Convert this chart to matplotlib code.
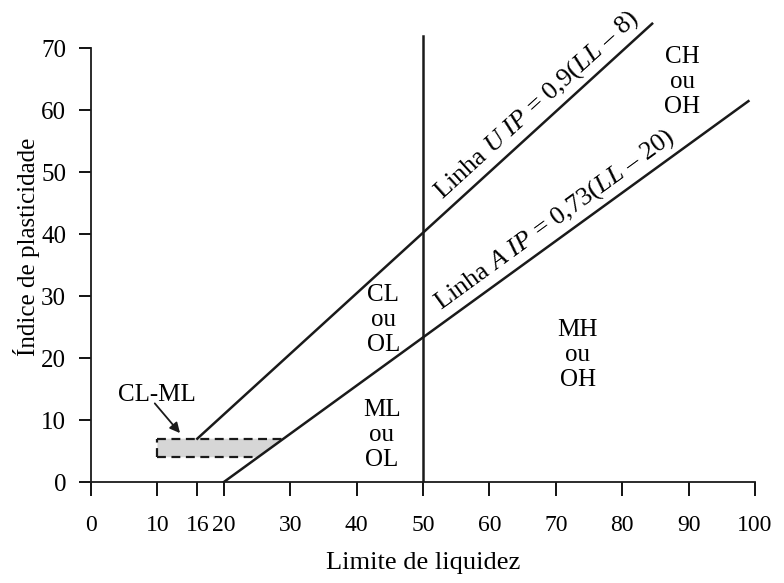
import matplotlib
matplotlib.use('Agg')
from matplotlib import pyplot as plt
import numpy as np

# Carta de plasticidade
linha_u_ll = [16, 84.5]
linha_u_ip = [7, 74]
linha_a_ll = [20, 99]
linha_a_ip = [0, 61.5]
vertical_ll = [50, 50]
vertical_ip = [0, 72]
cl_ml_ll = 10
cl_ml_ip = [4, 7]

x_ticks = [0, 10, 16, 20, 30, 40, 50, 60, 70, 80, 90, 100]
y_ticks = [0, 10, 20, 30, 40, 50, 60, 70]

zonas = ['CL\nou\nOL', 'ML\nou\nOL', 'MH\nou\nOH', 'CH\nou\nOH']

plt.rcParams['font.family'] = 'Liberation Serif'
plt.rcParams['mathtext.fontset'] = 'custom'
plt.rcParams['mathtext.rm'] = 'Liberation Serif'
plt.rcParams['mathtext.it'] = 'Liberation Serif:italic'
plt.rcParams['hatch.color'] = '0.6'

fig = plt.figure(figsize=(7.84, 5.83), dpi=100)
ax = fig.add_axes([0.1161, 0.1732, 0.847, 0.8074])
ax.set_xlim(0, 100)
ax.set_ylim(0, 76)

lw = 1.8
ax.plot(linha_u_ll, linha_u_ip, color='#1a1a1a', lw=lw)
ax.plot(linha_a_ll, linha_a_ip, color='#1a1a1a', lw=lw)
ax.plot(vertical_ll, vertical_ip, color='#1a1a1a', lw=lw)

# zona CL-ML (entre IP 4 e 7, limitada pela linha A)
ll_a_baixo = np.interp(cl_ml_ip[0], linha_a_ip, linha_a_ll)
ll_a_cima = np.interp(cl_ml_ip[1], linha_a_ip, linha_a_ll)
ax.fill([cl_ml_ll, ll_a_baixo, ll_a_cima, cl_ml_ll],
        [cl_ml_ip[0], cl_ml_ip[0], cl_ml_ip[1], cl_ml_ip[1]],
        facecolor='0.84', edgecolor='none', hatch='....', lw=0, zorder=1)
tracejado = (0, (4, 2.5))
ax.plot([cl_ml_ll, ll_a_cima], [cl_ml_ip[1]] * 2, color='#1a1a1a', lw=1.6, ls=tracejado)
ax.plot([cl_ml_ll, ll_a_baixo], [cl_ml_ip[0]] * 2, color='#1a1a1a', lw=1.6, ls=tracejado)
ax.plot([cl_ml_ll, cl_ml_ll], cl_ml_ip, color='#1a1a1a', lw=1.6, ls=tracejado)

ax.text(9.9, 14, 'CL-ML', ha='center', va='center', fontsize=18)
ax.annotate('', xy=(13.4, 7.9), xytext=(9.6, 12.7),
            arrowprops=dict(arrowstyle='-|>', color='#1a1a1a', lw=1.3,
                            mutation_scale=15, shrinkA=0, shrinkB=0))

posicoes = [(44, 26.2), (43.8, 7.6), (73.3, 20.5), (89, 64.6)]
for texto, (x, y) in zip(zonas, posicoes):
    ax.text(x, y, texto, ha='center', va='center', fontsize=18, linespacing=1.18)

# rótulos das linhas A e U
ang_u = np.degrees(np.arctan2(linha_u_ip[1] - linha_u_ip[0], linha_u_ll[1] - linha_u_ll[0]))
ang_a = np.degrees(np.arctan2(linha_a_ip[1] - linha_a_ip[0], linha_a_ll[1] - linha_a_ll[0]))
xu = 68.5
ax.text(xu, np.interp(xu, linha_u_ll, linha_u_ip) + 0.9, 'Linha $U$ $IP$ = 0,9($LL$ – 8)',
        rotation=ang_u, transform_rotates_text=True, rotation_mode='anchor',
        ha='center', va='bottom', fontsize=19)
xa = 71
ax.text(xa, np.interp(xa, linha_a_ll, linha_a_ip) + 0.9, 'Linha $A$ $IP$ = 0,73($LL$ – 20)',
        rotation=ang_a, transform_rotates_text=True, rotation_mode='anchor',
        ha='center', va='bottom', fontsize=19)

ax.spines['top'].set_visible(False)
ax.spines['right'].set_visible(False)
ax.spines['left'].set_bounds(0, 70)
ax.spines['bottom'].set_bounds(0, 100)
for s in ['left', 'bottom']:
    ax.spines[s].set_linewidth(1.3)
    ax.spines[s].set_color('#1a1a1a')

ax.set_xticks(x_ticks)
ax.set_yticks(y_ticks)
ax.tick_params(axis='x', direction='out', length=10, width=1.3, pad=14, labelsize=17)
ax.tick_params(axis='y', direction='out', length=9, width=1.3, pad=9, labelsize=18)

ax.set_xlabel('Limite de liquidez', fontsize=19, labelpad=11)
ax.set_ylabel('Índice de plasticidade', fontsize=18, labelpad=1)

plt.savefig('out.png', dpi=100)
